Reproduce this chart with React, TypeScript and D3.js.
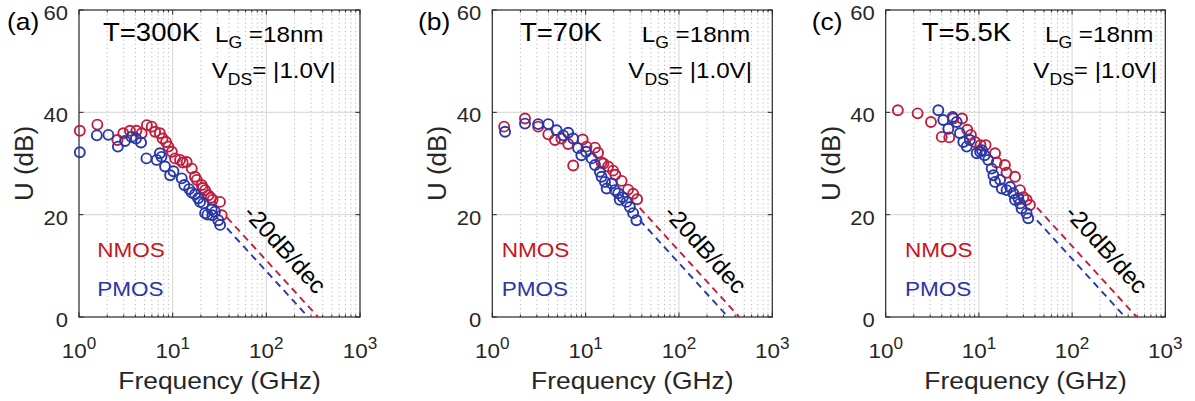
import React from 'react';
import * as d3 from 'd3';

type Pt = [number, number];

const PANEL_LABELS = ['(a)', '(b)', '(c)'];
const TEMPS = ['T=300K', 'T=70K', 'T=5.5K'];
const X_TICKS = [1, 10, 100, 1000];
const X_TICK_EXP = ['0', '1', '2', '3'];
const Y_TICKS = [0, 20, 40, 60];
const Y_GRID = [20, 40];

// Frequency (GHz), U (dB)
const NMOS_A: Pt[] = [
  [1.02, 36.4], [1.57, 37.6], [2.57, 34.6], [2.97, 35.9], [3.5, 36.4], [4.1, 36.4], [4.67, 35.9],
  [5.3, 37.5], [5.97, 37.2], [6.5, 36.2], [7.3, 35.9], [7.8, 34.9], [8.5, 34.2], [9.0, 33.3],
  [9.8, 32.3], [10.6, 31.0], [12.0, 30.7], [12.8, 30.2], [14.1, 30.3], [16.0, 29.0], [17.3, 27.4],
  [18.1, 26.8], [20.4, 25.8], [21.0, 25.2], [22.2, 24.8], [24.1, 23.8], [25.5, 23.3], [26.7, 22.9],
  [32.0, 22.5], [33.4, 19.9],
];
const PMOS_A: Pt[] = [
  [1.02, 32.2], [1.55, 35.5], [2.06, 35.6], [2.6, 33.3], [3.1, 34.4], [3.63, 35.2], [4.06, 34.9],
  [4.6, 34.1], [5.25, 31.0], [6.75, 30.7], [7.3, 32.0], [7.6, 31.3], [8.3, 29.4], [9.4, 27.7],
  [10.2, 28.5], [12.5, 27.1], [13.3, 25.8], [15.0, 25.0], [16.0, 24.3], [17.3, 24.0], [18.7, 23.2],
  [19.6, 22.5], [21.2, 22.2], [22.2, 20.3], [23.5, 20.0], [26.1, 21.0], [26.5, 19.9], [28.3, 20.6],
  [30.7, 18.9], [32.1, 18.0],
];
const NMOS_B: Pt[] = [
  [1.34, 37.2], [2.24, 38.8], [3.1, 37.2], [3.98, 35.7], [4.69, 34.6], [5.5, 34.9], [6.5, 33.8],
  [7.36, 29.6], [9.3, 34.7], [10.2, 33.3], [12.6, 33.1], [13.6, 32.1], [14.8, 30.2], [15.5, 30.0],
  [17.4, 29.4], [19.7, 28.6], [20.8, 27.8], [24.3, 26.6], [28.5, 24.9], [32.3, 24.1], [35.6, 23.0],
];
const PMOS_B: Pt[] = [
  [1.37, 36.2], [2.24, 37.8], [3.1, 37.7], [3.98, 37.7], [4.89, 36.5], [5.75, 35.5], [6.5, 36.0],
  [7.36, 34.9], [8.3, 33.0], [9.0, 31.6], [10.1, 32.3], [11.6, 31.0], [12.6, 29.7], [14.2, 28.4],
  [14.8, 27.4], [16.1, 26.4], [16.8, 25.1], [19.0, 26.1], [20.6, 24.8], [22.3, 24.2], [23.2, 22.9],
  [25.0, 23.4], [27.4, 22.5], [29.8, 21.5], [32.3, 20.3], [35.0, 18.9],
];
const NMOS_C: Pt[] = [
  [1.35, 40.4], [2.2, 39.8], [3.06, 38.1], [3.99, 35.2], [4.81, 35.1], [5.3, 38.8], [6.6, 38.8],
  [7.5, 36.6], [8.2, 35.6], [9.07, 34.2], [10.4, 33.6], [11.8, 33.6], [14.9, 32.0], [15.5, 30.2],
  [19.0, 29.7], [19.8, 28.2], [24.4, 27.4], [27.6, 24.8], [30.0, 23.4], [32.5, 22.9], [35.3, 21.9],
];
const PMOS_C: Pt[] = [
  [3.67, 40.4], [4.15, 38.5], [4.7, 36.8], [5.23, 39.1], [5.77, 38.1], [6.25, 35.9], [6.8, 34.2],
  [7.4, 33.3], [8.0, 34.6], [9.47, 32.0], [10.3, 32.3], [10.8, 32.6], [11.5, 31.6], [12.6, 30.7],
  [13.7, 29.0], [14.3, 27.7], [14.9, 26.4], [16.9, 26.8], [17.6, 25.1], [19.8, 24.8], [21.6, 25.4],
  [23.4, 24.2], [24.4, 22.9], [26.5, 23.2], [27.6, 22.2], [28.7, 21.2], [32.5, 20.3], [33.8, 19.3],
];
const NMOS = [NMOS_A, NMOS_B, NMOS_C];
const PMOS = [PMOS_A, PMOS_B, PMOS_C];

// -20 dB/dec guide lines: start frequency and 0 dB crossing (GHz)
const FIT_START = [38, 38, 42];
const NMOS_FIT_F0 = [357, 443, 493];
const PMOS_FIT_F0 = [280, 336, 370];

const LAYOUT = [
  { left: 79, width: 281, labelX: 7, tX: 103, lgX: 215, vdsX: 211.7, legX: 97.3, slopeF: 159 },
  { left: 492.3, width: 280, labelX: 418, tX: 520, lgX: 641.7, vdsX: 628.3, legX: 501.7, slopeF: 193 },
  { left: 885.7, width: 279.6, labelX: 811.7, tX: 921.7, lgX: 1045, vdsX: 1033.3, legX: 905, slopeF: 235 },
];
const TOP = 10;
const BOTTOM = 317;
const FONT = '"Liberation Sans", Arial, Helvetica, sans-serif';
const RED = '#c01e3c';
const BLUE = '#2838a8';
const RED_TXT = '#c8141e';
const BLUE_TXT = '#2a35a8';
const SX = 1.1;

function Panel({ i }: { i: number }) {
  const L = LAYOUT[i];
  const x = d3.scaleLog().domain([1, 1000]).range([L.left, L.left + L.width]);
  const y = d3.scaleLinear().domain([0, 60]).range([BOTTOM, TOP]);
  const right = L.left + L.width;
  const minors: number[] = [];
  for (const dec of [1, 10, 100]) for (let m = 2; m <= 9; m++) minors.push(dec * m);
  const line = d3.line<Pt>().x(d => x(d[0])).y(d => y(d[1]));
  const fit = (f0: number): Pt[] => [
    [FIT_START[i], 20 * Math.log10(f0 / FIT_START[i])],
    [f0, 0],
  ];
  const slopeX = x(L.slopeF);
  const slopeY = y(13.3);
  return (
    <g>
      {/* grid */}
      {minors.map(m => (
        <line key={'mg' + m} x1={x(m)} x2={x(m)} y1={TOP} y2={BOTTOM} stroke="#b8b8b8" strokeWidth={1} strokeDasharray="1.2,3" />
      ))}
      {[10, 100].map(t => (
        <line key={'Mg' + t} x1={x(t)} x2={x(t)} y1={TOP} y2={BOTTOM} stroke="#dcdcdc" strokeWidth={1.2} />
      ))}
      {Y_GRID.map(t => (
        <line key={'yg' + t} x1={L.left} x2={right} y1={y(t)} y2={y(t)} stroke="#dcdcdc" strokeWidth={1.2} />
      ))}
      {/* ticks */}
      {minors.map(m => (
        <g key={'mt' + m}>
          <line x1={x(m)} x2={x(m)} y1={BOTTOM} y2={BOTTOM - 2.5} stroke="#262626" />
          <line x1={x(m)} x2={x(m)} y1={TOP} y2={TOP + 2.5} stroke="#262626" />
        </g>
      ))}
      {X_TICKS.map(t => (
        <g key={'xt' + t}>
          <line x1={x(t)} x2={x(t)} y1={BOTTOM} y2={BOTTOM - 4.5} stroke="#262626" />
          <line x1={x(t)} x2={x(t)} y1={TOP} y2={TOP + 4.5} stroke="#262626" />
        </g>
      ))}
      {Y_TICKS.map(t => (
        <g key={'yt' + t}>
          <line x1={L.left} x2={L.left + 4.5} y1={y(t)} y2={y(t)} stroke="#262626" />
          <line x1={right} x2={right - 4.5} y1={y(t)} y2={y(t)} stroke="#262626" />
        </g>
      ))}
      <rect x={L.left} y={TOP} width={L.width} height={BOTTOM - TOP} fill="none" stroke="#262626" strokeWidth={1.2} />
      {/* tick labels */}
      {Y_TICKS.map(t => (
        <text key={'yl' + t} transform={`translate(${L.left - 11},${y(t) + 3}) scale(${SX},1)`} textAnchor="end"
          dominantBaseline="central" fontSize={20} fill="#262626" fontFamily={FONT}>{t}</text>
      ))}
      {X_TICKS.map((t, k) => (
        <text key={'xl' + t} transform={`translate(${x(t)},358) scale(1.07,1)`} textAnchor="middle"
          fontSize={21} fill="#262626" fontFamily={FONT}>
          <tspan>10</tspan>
          <tspan dy={-9} fontSize={16}>{X_TICK_EXP[k]}</tspan>
        </text>
      ))}
      {/* axis titles */}
      <text transform={`translate(${L.left + L.width / 2},389) scale(${SX},1)`} textAnchor="middle" fontSize={24}
        fill="#262626" fontFamily={FONT}>Frequency (GHz)</text>
      <text transform={`translate(${L.left - 46},${(TOP + BOTTOM) / 2}) rotate(-90)`} textAnchor="middle" fontSize={26}
        fill="#262626" fontFamily={FONT}>U (dB)</text>
      <text transform={`translate(${L.labelX},30) scale(${SX},1)`} fontSize={24} fill="#000" fontFamily={FONT}>{PANEL_LABELS[i]}</text>
      {/* annotations */}
      <text transform={`translate(${L.tX},40.7) scale(${SX},1)`} fontSize={25} fill="#000" fontFamily={FONT}>{TEMPS[i]}</text>
      <text transform={`translate(${L.lgX},41.7) scale(${SX},1)`} fontSize={22} fill="#000" fontFamily={FONT}>
        <tspan>L</tspan>
        <tspan dy={6.5} fontSize={16}>G</tspan>
        <tspan dy={-6.5} fontSize={22}>{' =18nm'}</tspan>
      </text>
      <text transform={`translate(${L.vdsX},78.3) scale(${SX},1)`} fontSize={22} fill="#000" fontFamily={FONT}>
        <tspan>V</tspan>
        <tspan dy={6.5} fontSize={16}>DS</tspan>
        <tspan dy={-6.5} fontSize={22}>{'= |1.0V|'}</tspan>
      </text>
      <text transform={`translate(${L.legX},257.3) scale(${SX},1)`} fontSize={20.5} fill={RED_TXT} fontFamily={FONT}>NMOS</text>
      <text transform={`translate(${L.legX},296) scale(${SX},1)`} fontSize={20.5} fill={BLUE_TXT} fontFamily={FONT}>PMOS</text>
      {/* fit lines */}
      <path d={line(fit(NMOS_FIT_F0[i])) || ''} fill="none" stroke={RED} strokeWidth={1.9} strokeDasharray="7,5" />
      <path d={line(fit(PMOS_FIT_F0[i])) || ''} fill="none" stroke={BLUE} strokeWidth={1.9} strokeDasharray="7,5" />
      <text transform={`translate(${slopeX},${slopeY}) rotate(48)`} textAnchor="middle" dominantBaseline="central"
        fontSize={24} fill="#000" fontFamily={FONT}>-20dB/dec</text>
      {/* data */}
      {NMOS[i].map((d, k) => (
        <circle key={'n' + k} cx={x(d[0])} cy={y(d[1])} r={5} fill="none" stroke={RED} strokeWidth={1.9} />
      ))}
      {PMOS[i].map((d, k) => (
        <circle key={'p' + k} cx={x(d[0])} cy={y(d[1])} r={5} fill="none" stroke={BLUE} strokeWidth={1.9} />
      ))}
    </g>
  );
}

export default function App() {
  return (
    <svg width={1195} height={401} style={{ position: 'absolute', left: 0, top: 0, display: 'block', background: '#fff' }}>
      <rect x={0} y={0} width={1195} height={401} fill="#fff" />
      {[0, 1, 2].map(i => <Panel key={i} i={i} />)}
    </svg>
  );
}
